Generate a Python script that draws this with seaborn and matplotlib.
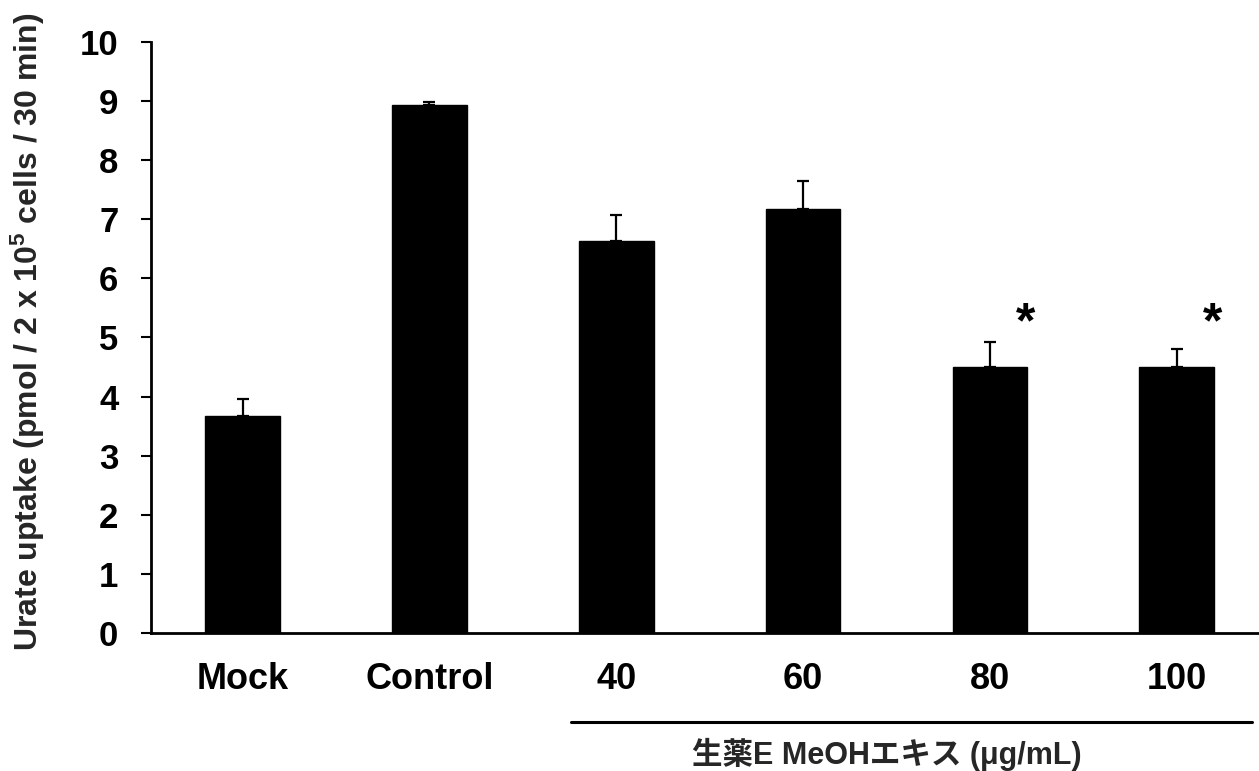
import matplotlib
matplotlib.use("Agg")
import matplotlib.pyplot as plt
import matplotlib.transforms as mtransforms
import seaborn as sns
import pandas as pd

categories = ["Mock", "Control", "40", "60", "80", "100"]
values = [3.68, 8.93, 6.63, 7.17, 4.50, 4.50]
errors = [0.28, 0.05, 0.45, 0.48, 0.43, 0.31]
significance = ["", "", "", "", "*", "*"]
y_ticks = [0, 1, 2, 3, 4, 5, 6, 7, 8, 9, 10]
ylabel = "Urate uptake (pmol / 2 x 10$^{5}$ cells / 30 min)"
group_label = "生薬E MeOHエキス (μg/mL)"

sns.set_theme(style="white")
plt.rcParams["font.family"] = ["Liberation Sans", "Noto Sans CJK JP", "DejaVu Sans"]
plt.rcParams["font.weight"] = "bold"
plt.rcParams["mathtext.fontset"] = "custom"
plt.rcParams["mathtext.rm"] = "Liberation Sans:bold"
plt.rcParams["mathtext.it"] = "Liberation Sans:bold"
plt.rcParams["mathtext.bf"] = "Liberation Sans:bold"

df = pd.DataFrame({"group": categories, "value": values})

fig = plt.figure(figsize=(12.59, 7.71), dpi=100)
ax = fig.add_axes([151 / 1259, 1 - 633 / 771, 1 - 151 / 1259, (633 - 42) / 771])

sns.barplot(data=df, x="group", y="value", order=categories, color="black",
            width=0.4, errorbar=None, saturation=1, ax=ax, edgecolor="black")

xs = list(range(len(categories)))
ax.errorbar(xs, values, yerr=[[0] * len(values), errors], fmt="none",
            ecolor="black", elinewidth=1.6, capsize=4.5, capthick=1.6, zorder=3)

for x, v, e, s in zip(xs, values, errors, significance):
    if s:
        ax.text(x + 0.19, 5.00, s, ha="center", va="baseline",
                fontsize=36, fontweight="bold", color="black")

ax.set_ylim(0, 10)
ax.set_xlim(-0.49, 5.44)
ax.set_yticks(y_ticks)
ax.set_yticklabels([str(t) for t in y_ticks], fontsize=25, fontweight="bold")
ax.set_xticks(xs)
ax.set_xticklabels(categories, fontsize=26, fontweight="bold")
ax.tick_params(axis="y", direction="out", length=7.5, width=1.5, pad=16, colors="black", left=True)
ax.tick_params(axis="x", length=0, pad=21, colors="black")
ax.set_xlabel("")
ax.set_ylabel(ylabel, fontsize=23, fontweight="bold")
ax.yaxis.set_label_coords(-0.094, 0.51)

for side in ["top", "right"]:
    ax.spines[side].set_visible(False)
for side in ["left", "bottom"]:
    ax.spines[side].set_visible(True)
    ax.spines[side].set_color("black")
    ax.spines[side].set_linewidth(2)

trans = mtransforms.blended_transform_factory(ax.transData, ax.transAxes)
ax.plot([1.76, 5.40], [-0.1506, -0.1506], color="black", lw=2.2,
        transform=trans, clip_on=False)
ax.text(3.45, -0.205, group_label, transform=trans, ha="center", va="center",
        fontsize=22, fontweight="bold",
        family=["Liberation Sans", "Noto Sans CJK JP", "DejaVu Sans"])

fig.savefig("out.png", dpi=100)
